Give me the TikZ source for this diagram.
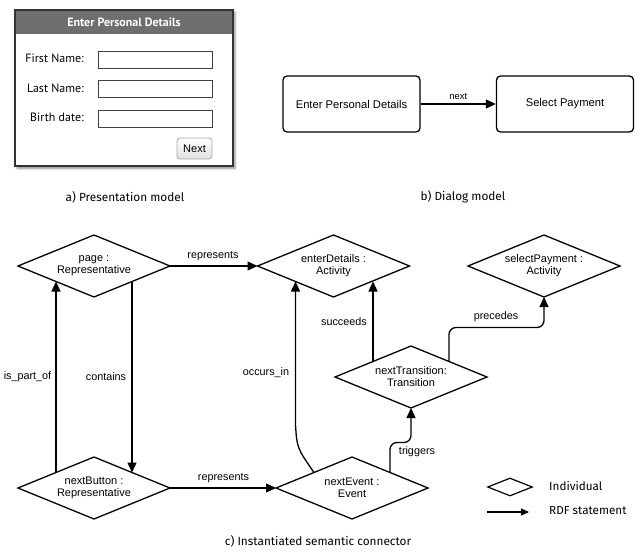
\documentclass[tikz,border=0pt]{standalone}
\usepackage{fontspec}
\setmainfont{Liberation Sans}
\newfontfamily\uifont{PT Sans}
\newfontfamily\capfont{Fira Sans}
\usetikzlibrary{shapes.geometric,arrows.meta,shadows.blur}

\tikzset{
  window/.style={draw=black!80, line width=1.2pt, fill=white, inner sep=0pt,
    blur shadow={shadow xshift=2pt, shadow yshift=-2.5pt, shadow blur steps=6, shadow opacity=45}},
  header/.style={fill=black!57, text=white, inner sep=0pt, font=\uifont\bfseries\fontsize{12}{14}\selectfont},
  fieldlabel/.style={anchor=east, inner sep=0pt, font=\uifont\fontsize{12}{14}\selectfont},
  field/.style={draw=black!75, line width=0.9pt, fill=white, minimum width=114pt, minimum height=17pt, inner sep=0pt},
  button/.style={draw=black!35, line width=0.7pt, rounded corners=3pt, top color=white, bottom color=black!12,
    minimum width=35pt, minimum height=21pt, inner sep=0pt, font=\fontsize{11}{13}\selectfont},
  state/.style={draw, line width=1.3pt, rounded corners=4pt, minimum width=137pt, minimum height=56pt,
    inner sep=0pt, font=\fontsize{11.2}{13}\selectfont},
  individual/.style={diamond, draw, line width=1.3pt, aspect=2.45, minimum width=152pt, minimum height=62pt,
    inner sep=0pt, outer sep=0pt, align=center, font=\fontsize{11}{12}\selectfont},
  rel/.style={line width=1.3pt, -{Triangle[length=10pt,width=9pt]}},
  rellabel/.style={inner sep=0pt, font=\fontsize{10.8}{12}\selectfont},
  caption/.style={inner sep=0pt, font=\capfont\fontsize{11.8}{13}\selectfont},
  legendtext/.style={anchor=west, inner sep=0pt, font=\capfont\fontsize{11.7}{13}\selectfont},
}

\begin{document}
\begin{tikzpicture}[x=1pt, y=-1pt]
\useasboundingbox (0,0) rectangle (637,556);

% ---- a) presentation model: the form window ----
\node[window, minimum width=218pt, minimum height=156pt] (win) at (124,88) {};
\node[header, minimum width=216pt, minimum height=23.5pt] (hdr) at (124,22.5) {Enter Personal Details};
\node[fieldlabel] (lfirst) at (84,58) {First Name:};
\node[fieldlabel] (llast) at (84,88) {Last Name:};
\node[fieldlabel] (lbirth) at (84,117) {Birth date:};
\node[field] (ffirst) at (155,59.5) {};
\node[field] (flast) at (155,88.5) {};
\node[field] (fbirth) at (155,118.5) {};
\node[button] (nextbtn) at (194.5,148.5) {Next};
\node[caption] (capa) at (125,197) {a) Presentation model};

% ---- b) dialog model ----
\node[state] (sEnter) at (351.5,104) {Enter Personal Details};
\node[state] (sPay) at (565,104) {Select Payment};
\draw[rel] (sEnter) -- node[above=4pt, inner sep=0pt, font=\fontsize{9.5}{11}\selectfont] (lnext) {next} (sPay);
\node[caption] (capb) at (463,197) {b) Dialog model};

% ---- c) instantiated semantic connector ----
\node[individual] (page) at (94,266) {page :\\Representative};
\node[individual] (ed) at (333.5,266) {enterDetails :\\Activity};
\node[individual] (sp) at (544,266) {selectPayment :\\Activity};
\node[individual] (nt) at (411,377) {nextTransition:\\Transition};
\node[individual] (nb) at (94,488) {nextButton :\\Representative};
\node[individual] (ne) at (352,488) {nextEvent :\\Event};

\draw[rel] (page.east) -- (ed.west);
\node[rellabel] (lrep1) at (213,256) {represents};

\draw[rel] (nb.north west) -- (page.south west);
\node[rellabel] (lpart) at (27.5,377) {is\_part\_of};

\draw[rel] (page.south east) -- (nb.north east);
\node[rellabel] (lcont) at (106,377) {contains};

\draw[rel] (nb.east) -- (ne.west);
\node[rellabel] (lrep2) at (223.5,478) {represents};

\coordinate (occbend) at (295.5,425);
\draw[rel] (ne.north west) .. controls (297,448) .. (occbend) -- (ed.south west);
\node[rellabel] (locc) at (266,373) {occurs\_in};

\draw[rel] (nt.north west) -- (nt.north west |- ed.south east);
\node[rellabel] (lsucc) at (344,322) {succeeds};

\draw[rel, rounded corners=7pt] (nt.north east) -- ++(0,-34) -| (sp.south);
\node[rellabel] (lprec) at (496,317) {precedes};

\draw[rel, rounded corners=7pt] (ne.north east) -- ++(0,-30) -| (nt.south);
\node[rellabel] (ltrig) at (417,452) {triggers};

% legend
\node[diamond, draw, line width=1.2pt, aspect=2.5, minimum width=45pt, minimum height=18pt, inner sep=0pt] (legind) at (510,487) {};
\node[legendtext] (legindt) at (549,486) {Individual};
\coordinate (legA) at (487,512);
\coordinate (legB) at (529,512);
\draw[line width=1.2pt, -{Triangle[length=8pt,width=7pt]}] (legA) -- (legB);
\node[legendtext] (legrdft) at (549,511) {RDF statement};

\node[caption] (capc) at (318,541) {c) Instantiated semantic connector};
\end{tikzpicture}
\end{document}
